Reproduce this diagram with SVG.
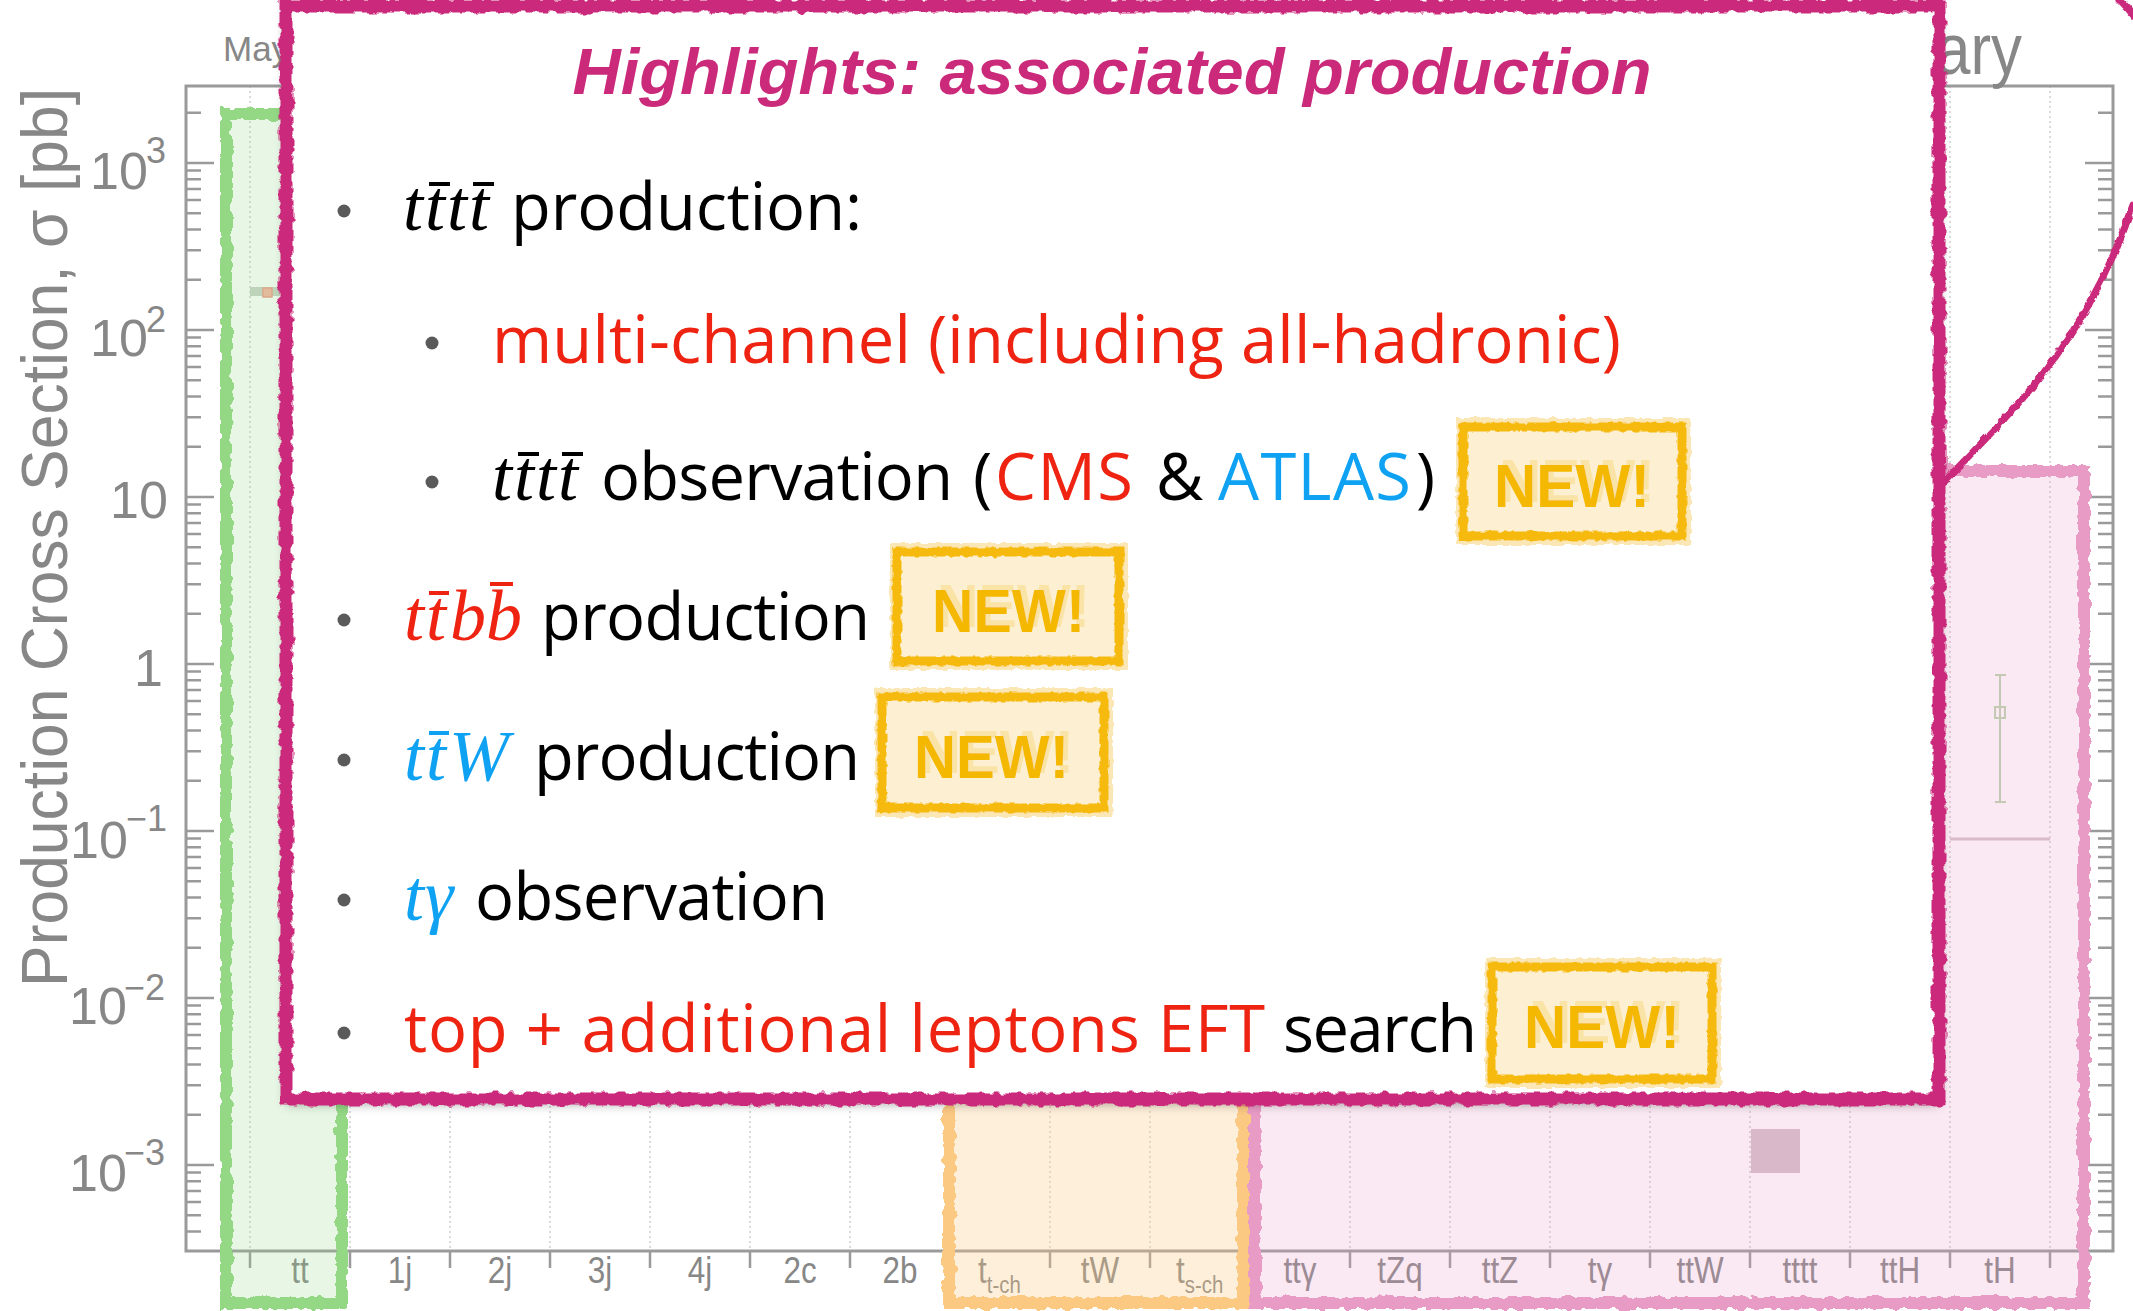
<svg xmlns="http://www.w3.org/2000/svg" width="2133" height="1311" viewBox="0 0 2133 1311">
<defs>
<style>
.frame{stroke:#9a9a9a;stroke-width:3;fill:none}
.tick{stroke:#9a9a9a;stroke-width:2.5;fill:none}
.grid{stroke:#cfcfcf;stroke-width:1.5;stroke-dasharray:2 3;fill:none}
.lab{font-family:"Liberation Sans",Arial,sans-serif;fill:#878787}
.body{font-family:"Open Sans","Noto Sans",sans-serif;font-size:65px}
.math{font-family:"Liberation Serif","Times New Roman",serif;font-style:italic;font-size:72px}
.red{fill:#EE2311}
.blue{fill:#0FA2F2}
.blk{fill:#000}
.rbar{stroke:#EE2311;stroke-width:4}
.bbar{stroke:#0FA2F2;stroke-width:4}
.kbar{stroke:#000;stroke-width:4}
.bul{fill:#5a5a5a}
.new{font-family:"Liberation Sans",Arial,sans-serif;font-weight:bold;font-size:62px;fill:#F5B800}
.badge{fill:#FDF0D2;stroke:#F6B90F;stroke-width:9}
.halo{fill:none;stroke:#FBE7B5;stroke-width:6}
</style>
<filter id="rough" x="-5%" y="-5%" width="110%" height="110%">
<feTurbulence type="fractalNoise" baseFrequency="0.11" numOctaves="2" seed="4" result="n"/>
<feDisplacementMap in="SourceGraphic" in2="n" scale="8" xChannelSelector="R" yChannelSelector="G"/>
</filter>
<filter id="roughS" x="-10%" y="-10%" width="120%" height="120%">
<feTurbulence type="fractalNoise" baseFrequency="0.14" numOctaves="2" seed="9" result="n"/>
<feDisplacementMap in="SourceGraphic" in2="n" scale="5" xChannelSelector="R" yChannelSelector="G"/>
</filter>
<filter id="blur" x="-5%" y="-5%" width="110%" height="110%">
<feGaussianBlur stdDeviation="6"/>
</filter>
<filter id="newsh" x="-10%" y="-30%" width="130%" height="160%">
<feOffset in="SourceAlpha" dx="5" dy="-5" result="o"/>
<feFlood flood-color="#F9E3A6"/>
<feComposite in2="o" operator="in" result="s"/>
<feMerge><feMergeNode in="s"/><feMergeNode in="SourceGraphic"/></feMerge>
</filter>
</defs>

<rect width="2133" height="1311" fill="#fff"/>

<g id="chart">
<g class="grid">
<path d="M250 86V1251M350 86V1251M450 86V1251M550 86V1251M650 86V1251M750 86V1251M850 86V1251M950 86V1251M1050 86V1251M1150 86V1251M1250 86V1251M1350 86V1251M1450 86V1251M1550 86V1251M1650 86V1251M1750 86V1251M1850 86V1251M1950 86V1251M2050 86V1251"/>
</g>
<rect class="frame" x="186" y="86" width="1927" height="1165"/>
<path class="tick" d="M250 1251v17M350 1251v17M450 1251v17M550 1251v17M650 1251v17M750 1251v17M850 1251v17M950 1251v17M1050 1251v17M1150 1251v17M1250 1251v17M1350 1251v17M1450 1251v17M1550 1251v17M1650 1251v17M1750 1251v17M1850 1251v17M1950 1251v17M2050 1251v17"/>
<path class="tick" d="M186 163h28M186 330h28M186 497h28M186 664h28M186 831h28M186 998h28M186 1165h28M2113 163h-28M2113 330h-28M2113 497h-28M2113 664h-28M2113 831h-28M2113 998h-28M2113 1165h-28"/>
<path class="tick" d="M186 112.7h15M186 170.6h15M186 179.2h15M186 188.9h15M186 200.1h15M186 213.3h15M186 229.5h15M186 250.3h15M186 279.7h15M186 337.6h15M186 346.2h15M186 355.9h15M186 367.1h15M186 380.3h15M186 396.5h15M186 417.3h15M186 446.7h15M186 504.6h15M186 513.2h15M186 522.9h15M186 534.1h15M186 547.3h15M186 563.5h15M186 584.3h15M186 613.7h15M186 671.6h15M186 680.2h15M186 689.9h15M186 701.1h15M186 714.3h15M186 730.5h15M186 751.3h15M186 780.7h15M186 838.6h15M186 847.2h15M186 856.9h15M186 868.1h15M186 881.3h15M186 897.5h15M186 918.3h15M186 947.7h15M186 1005.6h15M186 1014.2h15M186 1023.9h15M186 1035.1h15M186 1048.3h15M186 1064.5h15M186 1085.3h15M186 1114.7h15M186 1172.6h15M186 1181.2h15M186 1190.9h15M186 1202.1h15M186 1215.3h15M186 1231.5h15"/>
<path class="tick" d="M2113 112.7h-15M2113 170.6h-15M2113 179.2h-15M2113 188.9h-15M2113 200.1h-15M2113 213.3h-15M2113 229.5h-15M2113 250.3h-15M2113 279.7h-15M2113 337.6h-15M2113 346.2h-15M2113 355.9h-15M2113 367.1h-15M2113 380.3h-15M2113 396.5h-15M2113 417.3h-15M2113 446.7h-15M2113 504.6h-15M2113 513.2h-15M2113 522.9h-15M2113 534.1h-15M2113 547.3h-15M2113 563.5h-15M2113 584.3h-15M2113 613.7h-15M2113 671.6h-15M2113 680.2h-15M2113 689.9h-15M2113 701.1h-15M2113 714.3h-15M2113 730.5h-15M2113 751.3h-15M2113 780.7h-15M2113 838.6h-15M2113 847.2h-15M2113 856.9h-15M2113 868.1h-15M2113 881.3h-15M2113 897.5h-15M2113 918.3h-15M2113 947.7h-15M2113 1005.6h-15M2113 1014.2h-15M2113 1023.9h-15M2113 1035.1h-15M2113 1048.3h-15M2113 1064.5h-15M2113 1085.3h-15M2113 1114.7h-15M2113 1172.6h-15M2113 1181.2h-15M2113 1190.9h-15M2113 1202.1h-15M2113 1215.3h-15M2113 1231.5h-15"/>

<g class="lab" font-size="52">
<text x="90" y="189">10</text><text x="146" y="163" font-size="36">3</text>
<text x="90" y="356">10</text><text x="146" y="332" font-size="36">2</text>
<text x="110" y="518">10</text>
<text x="134" y="686">1</text>
<text x="70" y="858">10</text><text x="126" y="831" font-size="36">−1</text>
<text x="69" y="1024">10</text><text x="124" y="1000" font-size="36">−2</text>
<text x="69" y="1191">10</text><text x="124" y="1165" font-size="36">−3</text>
</g>
<text class="lab" font-size="64" transform="translate(67 987) rotate(-90)" textLength="899" lengthAdjust="spacingAndGlyphs">Production Cross Section, σ [pb]</text>
<text class="lab" x="223" y="61" font-size="35">May</text>
<text class="lab" x="1936" y="74" font-size="72" textLength="86" lengthAdjust="spacingAndGlyphs">ary</text>

<g class="lab" font-size="37" transform="scale(0.85 1)" text-anchor="middle">
<text x="352.9" y="1283">tt</text>
<text x="470.6" y="1283">1j</text>
<text x="588.2" y="1283">2j</text>
<text x="705.9" y="1283">3j</text>
<text x="823.5" y="1283">4j</text>
<text x="941.2" y="1283">2c</text>
<text x="1058.8" y="1283">2b</text>
<text x="1150.6" y="1283" text-anchor="start">t<tspan font-size="24" dy="10">t-ch</tspan></text>
<text x="1294.1" y="1283">tW</text>
<text x="1383.5" y="1283" text-anchor="start">t<tspan font-size="24" dy="10">s-ch</tspan></text>
<text x="1529.4" y="1283">ttγ</text>
<text x="1647.1" y="1283">tZq</text>
<text x="1764.7" y="1283">ttZ</text>
<text x="1882.4" y="1283">tγ</text>
<text x="2000" y="1283">ttW</text>
<text x="2117.6" y="1283">tttt</text>
<text x="2235.3" y="1283">ttH</text>
<text x="2352.9" y="1283">tH</text>
</g>

<rect x="250" y="287" width="30" height="9" fill="#c9d3c8"/>
<rect x="263" y="288" width="9" height="9" fill="#F7B3A5" stroke="#EE9A88" stroke-width="1.5"/>
<rect x="1751" y="1129" width="49" height="44" fill="#D3C0CA"/>
<path d="M1950 839H2050" stroke="#D3C3CC" stroke-width="3"/>
<path d="M2000 675V802M1995 675H2006M1995 802H2006" stroke="#B9D6AE" stroke-width="2"/>
<rect x="1995" y="707" width="10" height="11" fill="none" stroke="#B9D6AE" stroke-width="2"/>
</g>

<g id="green-box">
<rect x="226" y="114" width="116" height="1189" fill="rgba(150,218,135,0.22)" stroke="#94D886" stroke-width="12" filter="url(#rough)"/>
</g>
<g id="orange-box">
<rect x="949" y="1060" width="294" height="243" fill="rgba(252,201,131,0.3)" stroke="#FCC983" stroke-width="12" filter="url(#rough)"/>
</g>
<g id="pink-box">
<rect x="1255" y="471" width="829" height="832" fill="rgba(232,155,196,0.22)" stroke="#E89BC5" stroke-width="12" filter="url(#rough)"/>
</g>

<g id="connectors" fill="none" stroke="#CB2A7B" stroke-width="7" stroke-linecap="round" filter="url(#roughS)">
<path d="M1935 492C1995 425 2080 360 2133 205"/>
<path d="M2120 0Q2127 7 2133 15"/>
</g>

<g id="highlights-box">
<rect x="286" y="11" width="1653" height="1093" fill="#000" opacity="0.35" filter="url(#blur)"/>
<rect x="286" y="6" width="1653" height="1093" fill="#fff"/>
<rect x="286" y="6" width="1653" height="1093" fill="none" stroke="#CB2A7B" stroke-width="13" filter="url(#rough)"/>
<text x="1112" y="94" text-anchor="middle" font-family="'Liberation Sans',Arial,sans-serif" font-weight="bold" font-style="italic" font-size="64" fill="#CB2A7B" textLength="1079" lengthAdjust="spacingAndGlyphs">Highlights: associated production</text>

<g id="item-tttt">
<circle class="bul" cx="344" cy="211" r="6.5"/>
<text class="math blk" x="403 425 447 469" y="230">tttt</text>
<path class="kbar" d="M429 184H450M473 184H494"/>
<text class="body blk" x="511" y="230" textLength="351">production:</text>
</g>
<g id="item-multichannel">
<circle class="bul" cx="432" cy="343" r="6.5"/>
<text class="body red" x="492" y="363" textLength="1129">multi-channel (including all-hadronic)</text>
</g>
<g id="item-observation">
<circle class="bul" cx="432" cy="482" r="6.5"/>
<text class="math blk" x="492 514 536 558" y="500">tttt</text>
<path class="kbar" d="M518 454H539M562 454H583"/>
<text class="body blk" x="601" y="500" textLength="352">observation</text>
<text class="body blk" x="973" y="500">(</text>
<text class="body red" x="995" y="500" textLength="138">CMS</text>
<text class="body blk" x="1156" y="500" textLength="44">&amp;</text>
<text class="body blue" x="1218" y="500" textLength="193">ATLAS</text>
<text class="body blk" x="1416" y="500">)</text>
</g>
<g id="item-ttbb">
<circle class="bul" cx="344" cy="620" r="6.5"/>
<text class="math red" x="404 426 450 486" y="640">ttbb</text>
<path class="rbar" d="M429 593H449M490 584H513"/>
<text class="body blk" x="541" y="640" textLength="329">production</text>
</g>
<g id="item-ttW">
<circle class="bul" cx="344" cy="760" r="6.5"/>
<text class="math blue" x="404 426 449" y="780">ttW</text>
<path class="bbar" d="M429 733H449"/>
<text class="body blk" x="534" y="780" textLength="326">production</text>
</g>
<g id="item-tgamma">
<circle class="bul" cx="344" cy="900" r="6.5"/>
<text class="math blue" x="404 425" y="920">tγ</text>
<text class="body blk" x="475" y="920" textLength="353">observation</text>
</g>
<g id="item-eft">
<circle class="bul" cx="344" cy="1033" r="6.5"/>
<text class="body red" x="404" y="1052" textLength="861">top + additional leptons EFT</text>
<text class="body blk" x="1283" y="1052" textLength="194">search</text>
</g>
</g>

<g id="badge-1">
<rect class="halo" x="1459" y="421" width="229" height="121" filter="url(#roughS)"/>
<rect class="badge" x="1463" y="427" width="219" height="109" filter="url(#roughS)"/>
<text class="new" x="1494" y="507" textLength="156" lengthAdjust="spacingAndGlyphs" filter="url(#newsh)">NEW!</text>
</g>
<g id="badge-2">
<rect class="halo" x="893" y="546" width="232" height="121" filter="url(#roughS)"/>
<rect class="badge" x="897" y="552" width="222" height="109" filter="url(#roughS)"/>
<text class="new" x="932" y="632" textLength="153" lengthAdjust="spacingAndGlyphs" filter="url(#newsh)">NEW!</text>
</g>
<g id="badge-3">
<rect class="halo" x="878" y="691" width="232" height="123" filter="url(#roughS)"/>
<rect class="badge" x="882" y="697" width="222" height="111" filter="url(#roughS)"/>
<text class="new" x="914" y="778" textLength="155" lengthAdjust="spacingAndGlyphs" filter="url(#newsh)">NEW!</text>
</g>
<g id="badge-4">
<rect class="halo" x="1488" y="961" width="230" height="124" filter="url(#roughS)"/>
<rect class="badge" x="1492" y="967" width="220" height="112" filter="url(#roughS)"/>
<text class="new" x="1524" y="1048" textLength="156" lengthAdjust="spacingAndGlyphs" filter="url(#newsh)">NEW!</text>
</g>
</svg>
